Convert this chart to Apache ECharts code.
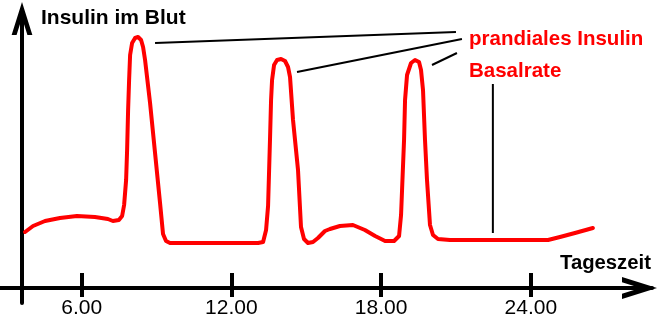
<!DOCTYPE html>
<html><head><meta charset="utf-8">
<script src="https://cdn.jsdelivr.net/npm/echarts@6/dist/echarts.min.js"></script>
<style>html,body{margin:0;padding:0;background:#fff}#c{width:658px;height:319px}</style>
</head><body><div id="c"></div>
<script>
// Tick positions (hours of day) and their labels
const tickHours = [6, 12, 18, 24];
const tickLabels = ['6.00', '12.00', '18.00', '24.00'];

// Insulin curve: hour of day and relative level
const curveHours = [3.73, 4.05, 4.53, 5.13, 5.81, 6.53, 7.05, 7.25, 7.49, 7.62, 7.70, 7.78, 7.82, 7.86, 7.90, 7.94, 8.02, 8.14, 8.26, 8.38, 8.46, 8.54, 8.74, 8.94, 9.14, 9.26, 9.38, 9.54, 10.74, 11.94, 13.07, 13.27, 13.39, 13.47, 13.55, 13.59, 13.63, 13.71, 13.83, 13.99, 14.15, 14.27, 14.35, 14.47, 14.67, 14.79, 14.91, 15.07, 15.27, 15.47, 15.75, 15.95, 16.35, 16.87, 17.35, 17.76, 18.16, 18.52, 18.72, 18.80, 18.84, 18.92, 18.96, 19.04, 19.20, 19.36, 19.52, 19.60, 19.68, 19.76, 19.84, 19.96, 20.08, 20.28, 20.76, 22.77, 24.69, 25.17, 25.77, 26.49];
const curveLevels = [56, 62, 67, 70, 72, 71, 69, 67, 68, 72, 83, 108, 138, 178, 208, 233, 245, 250, 251, 248, 241, 228, 185, 135, 85, 54, 47, 45, 45, 45, 45, 46, 58, 82, 151, 188, 208, 223, 228, 229, 227, 221, 211, 168, 118, 61, 49, 45, 46, 50, 57, 59, 62, 63, 58, 52, 47, 47, 52, 73, 98, 148, 188, 213, 225, 228, 226, 218, 198, 148, 108, 63, 53, 49, 48, 48, 48, 51, 55, 60];

// Annotation pointer lines: [hour, level] endpoints
const pointerPrandial1 = [[8.94, 245], [21.00, 256]];
const pointerPrandial2 = [[14.63, 216], [21.24, 249]];
const pointerPrandial3 = [[20.04, 223], [21.04, 235]];
const pointerBasal = [[22.48, 204], [22.48, 55]];

// Texts
const yTitle = 'Insulin im Blut';
const xTitle = 'Tageszeit';
const labelPrandial = 'prandiales Insulin';
const labelBasal = 'Basalrate';

const FONT = '"Liberation Sans", Arial, sans-serif';
const chevron = 'path://M0,35L11,0L22,35L16.76,35L11,16.7L5.24,35Z';

const chart = echarts.init(document.getElementById('c'), null, {renderer: 'canvas'});

function pointerSeries(data) {
  return {
    type: 'line', data: data, symbol: 'none', silent: true, z: 3,
    lineStyle: {color: '#000', width: 2}
  };
}

const xMin = 2.7255, xMax = 28.858;

chart.setOption({
  animation: false,
  backgroundColor: '#fff',
  grid: {left: 0, right: 6, top: 14, bottom: 16, containLabel: false},
  xAxis: [{
    type: 'value', min: xMin, max: xMax, position: 'bottom', offset: -15,
    splitLine: {show: false},
    axisLine: {show: true, onZero: false, lineStyle: {color: '#000', width: 4},
      symbol: ['none', chevron], symbolSize: [22, 35], symbolOffset: [0, -12.5]},
    axisTick: {show: true, inside: false, length: 9, customValues: tickHours,
      lineStyle: {color: '#000', width: 4}},
    axisLabel: {show: true, customValues: tickHours, margin: 10,
      formatter: function (v) { return tickLabels[tickHours.indexOf(v)]; },
      color: '#000', fontSize: 21, fontFamily: FONT}
  }, {
    type: 'value', min: xMin, max: xMax, position: 'bottom', offset: -15,
    splitLine: {show: false},
    axisLine: {show: false, onZero: false},
    axisTick: {show: true, inside: true, length: 15, customValues: tickHours,
      lineStyle: {color: '#000', width: 4}},
    axisLabel: {show: false, customValues: tickHours}
  }],
  yAxis: {
    type: 'value', min: -15, max: 274, position: 'left', offset: -22,
    splitLine: {show: false},
    axisLine: {show: true, onZero: false, lineStyle: {color: '#000', width: 4},
      symbol: ['none', chevron], symbolSize: [21, 33], symbolOffset: [0, -4.5]},
    axisTick: {show: false},
    axisLabel: {show: false}
  },
  series: [{
    type: 'line', name: 'Insulin', symbol: 'none', smooth: false, z: 4,
    data: curveHours.map(function (h, i) { return [h, curveLevels[i]]; }),
    lineStyle: {color: '#ff0000', width: 4, cap: 'round', join: 'round'}
  },
    pointerSeries(pointerPrandial1),
    pointerSeries(pointerPrandial2),
    pointerSeries(pointerPrandial3),
    pointerSeries(pointerBasal)
  ],
  graphic: [
    {type: 'text', x: 41, y: 18.5, style: {text: yTitle, fill: '#000', font: 'bold 21px ' + FONT, verticalAlign: 'middle'}},
    {type: 'text', x: 469, y: 39.4, style: {text: labelPrandial, fill: '#ff0000', font: 'bold 20.5px ' + FONT, verticalAlign: 'middle'}},
    {type: 'text', x: 469, y: 71, style: {text: labelBasal, fill: '#ff0000', font: 'bold 20.5px ' + FONT, verticalAlign: 'middle'}},
    {type: 'text', x: 560, y: 263, style: {text: xTitle, fill: '#000', font: 'bold 20.3px ' + FONT, verticalAlign: 'middle'}}
  ]
});
</script>
</body></html>
